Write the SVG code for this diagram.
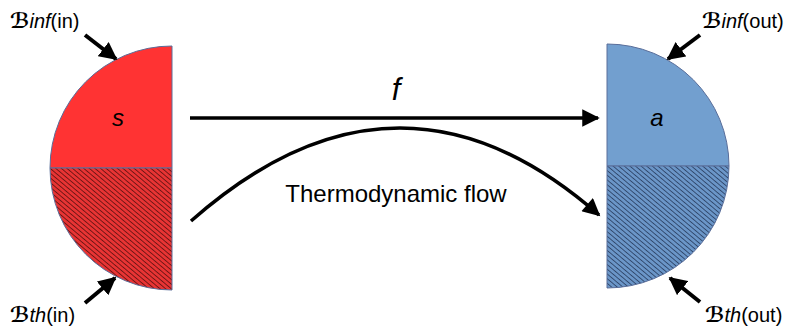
<svg xmlns="http://www.w3.org/2000/svg" width="788" height="328" viewBox="0 0 788 328">
<style>
.lbl{font-family:"Liberation Sans",Arial,sans-serif;font-size:20px;fill:#000}
.scr{font-family:"DejaVu Serif","DejaVu Sans",serif;font-style:italic;font-weight:bold;font-size:21px}
.it{font-style:italic}
.edge{stroke:#000;stroke-width:3.5;fill:none}
.small{stroke:#000;stroke-width:4;fill:none}
.outline{stroke:#5a6e9a;stroke-width:1}
</style>
<defs>
<pattern id="hatchRed" patternUnits="userSpaceOnUse" width="3.6" height="4" patternTransform="rotate(-50)">
<rect width="3.6" height="4" fill="#e83434"/>
<line x1="0" y1="0" x2="0" y2="4" stroke="#4a0c0c" stroke-width="1.4"/>
</pattern>
<pattern id="hatchBlue" patternUnits="userSpaceOnUse" width="3.6" height="4" patternTransform="rotate(-50)">
<rect width="3.6" height="4" fill="#6b96c8"/>
<line x1="0" y1="0" x2="0" y2="4" stroke="#1e3050" stroke-width="1.4"/>
</pattern>
<marker id="ah" viewBox="0 0 10 10" refX="9" refY="5" markerWidth="6" markerHeight="5" markerUnits="strokeWidth" orient="auto">
<path d="M0,0 L10,5 L0,10 z" fill="#000"/>
</marker>
<marker id="ahs" viewBox="0 0 10 10" refX="9" refY="5" markerWidth="4.5" markerHeight="4.5" markerUnits="strokeWidth" orient="auto">
<path d="M0,0 L10,5 L0,10 z" fill="#000"/>
</marker>
</defs>

<g id="node-s">
<path d="M172,168 L50,168 A122,122 0 0 1 172,46 Z" fill="#ff3333" class="outline"/>
<path d="M172,168 L50,168 A122,122 0 0 0 172,290 Z" fill="url(#hatchRed)" class="outline"/>
<text x="118" y="126" class="lbl it" text-anchor="middle" style="font-size:24px">s</text>
</g>

<g id="node-a">
<path d="M607,166 L729,166 A122,122 0 0 0 607,44 Z" fill="#729fcf" class="outline"/>
<path d="M607,166 L729,166 A122,122 0 0 1 607,288 Z" fill="url(#hatchBlue)" class="outline"/>
<text x="657" y="126" class="lbl it" text-anchor="middle" style="font-size:24px">a</text>
</g>

<g id="connectors">
<line x1="190" y1="118" x2="598" y2="118" class="edge" marker-end="url(#ah)"/>
<path d="M191,221 Q398,38 599,215" class="edge" marker-end="url(#ah)"/>
<line x1="85" y1="35" x2="116" y2="59" class="small" marker-end="url(#ahs)"/>
<line x1="85" y1="303" x2="115" y2="278" class="small" marker-end="url(#ahs)"/>
<line x1="700" y1="35" x2="668" y2="59" class="small" marker-end="url(#ahs)"/>
<line x1="700" y1="302" x2="670" y2="278" class="small" marker-end="url(#ahs)"/>
</g>

<g id="labels">
<text x="396" y="100" class="lbl it" text-anchor="middle" style="font-size:31px">f</text>
<text x="396" y="202" class="lbl" text-anchor="middle" style="font-size:24px">Thermodynamic flow</text>
<text x="10" y="28" class="lbl"><tspan class="scr">ℬ</tspan><tspan class="it">inf</tspan>(in)</text>
<text x="10" y="322" class="lbl"><tspan class="scr">ℬ</tspan><tspan class="it">th</tspan>(in)</text>
<text x="702" y="28" class="lbl"><tspan class="scr">ℬ</tspan><tspan class="it">inf</tspan>(out)</text>
<text x="705" y="322" class="lbl"><tspan class="scr">ℬ</tspan><tspan class="it">th</tspan>(out)</text>
</g>
</svg>
